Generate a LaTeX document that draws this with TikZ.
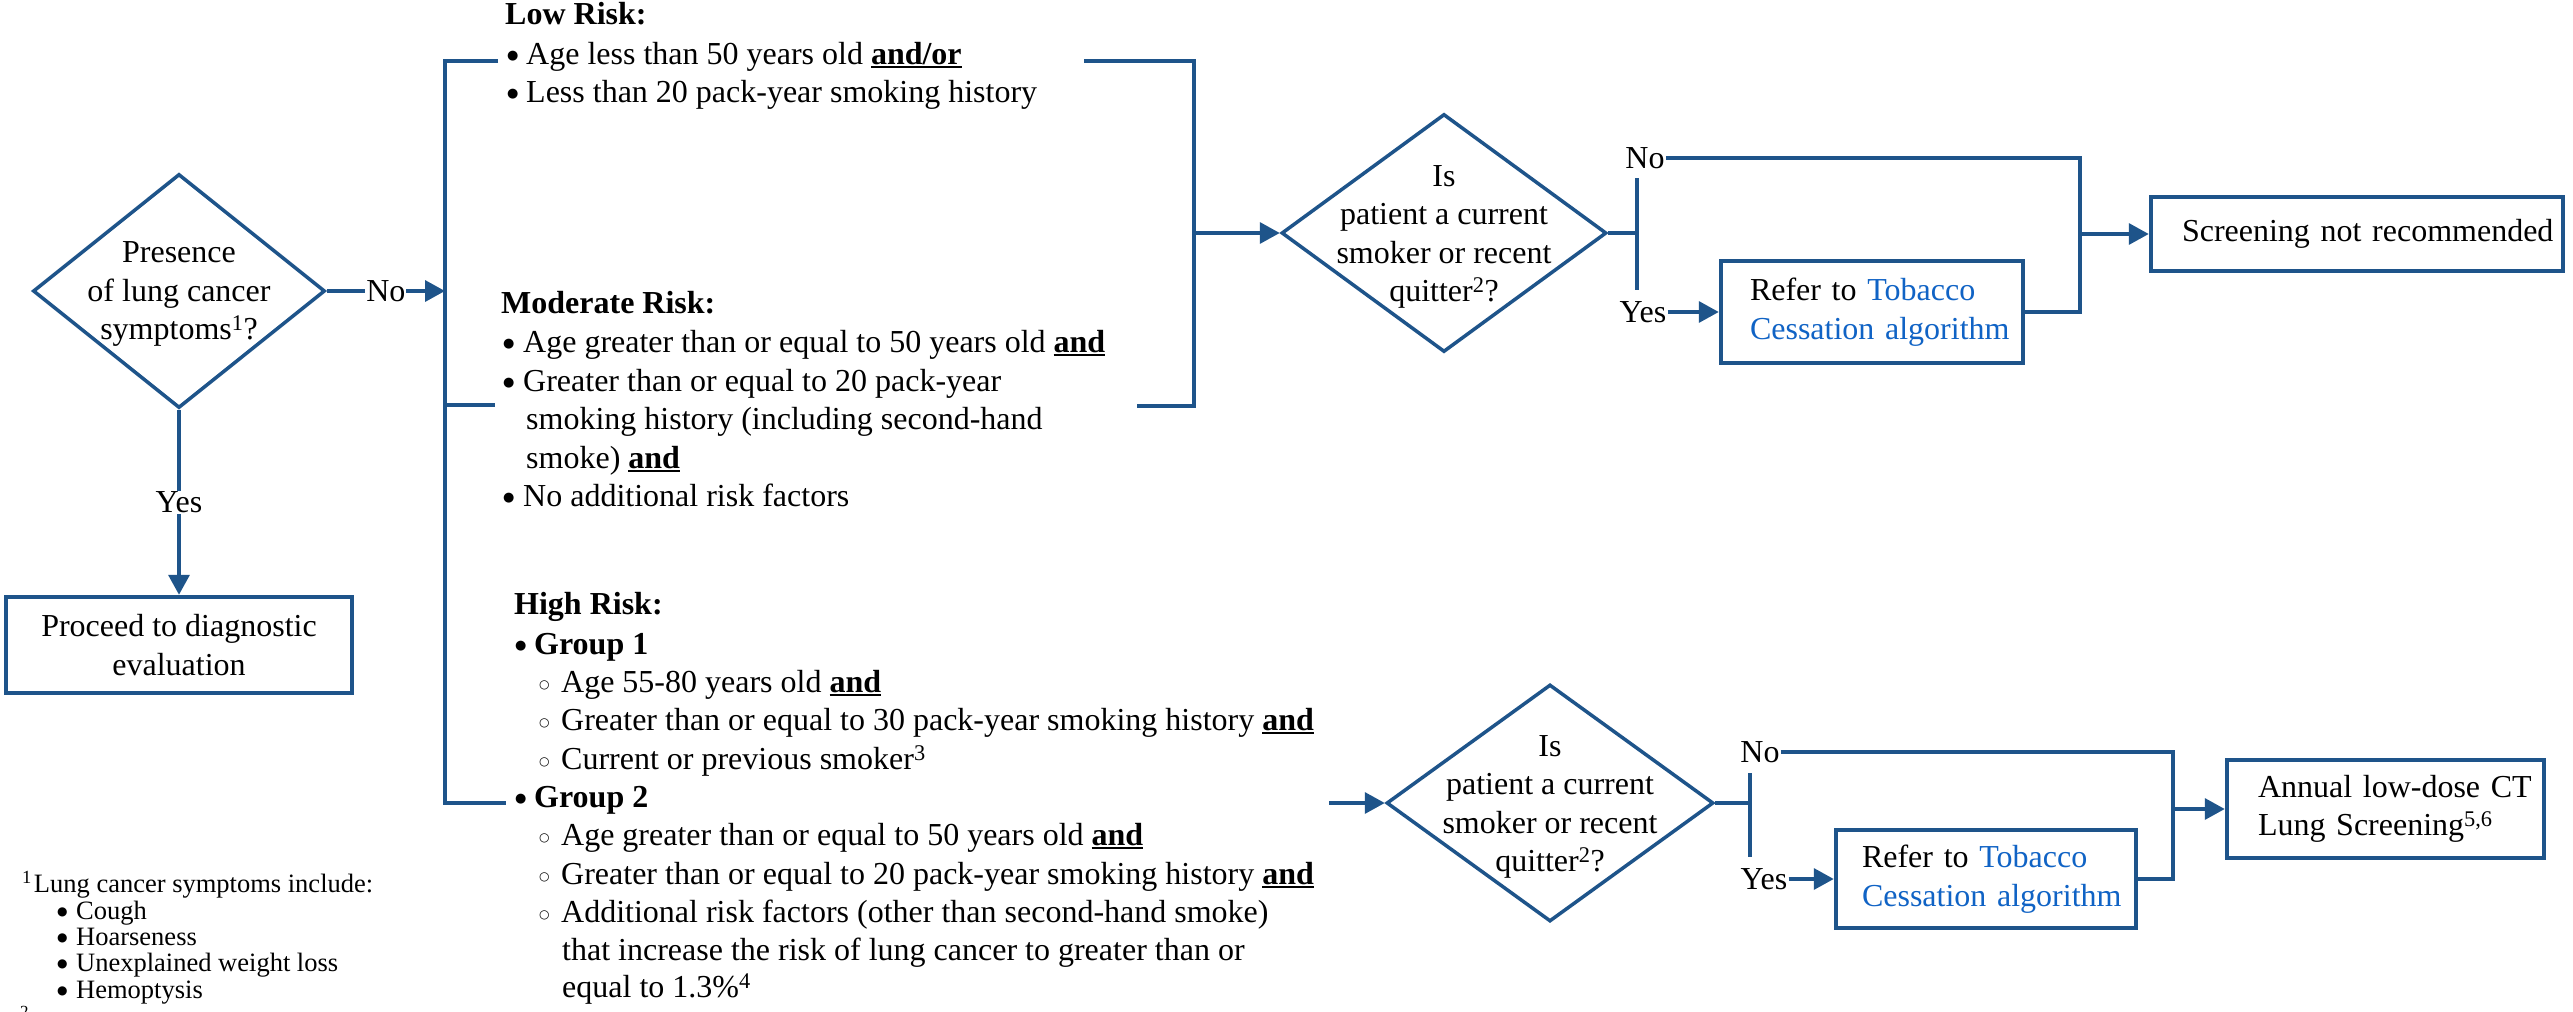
\documentclass[tikz,border=0pt]{standalone}
\usepackage{fontspec}
\setmainfont{Liberation Serif}
\newfontfamily\symf{DejaVu Sans}
\usetikzlibrary{shapes.geometric,arrows.meta,calc}
\definecolor{fc}{RGB}{30,84,138}
\definecolor{lnk}{RGB}{16,99,197}
\newcommand{\ulb}[1]{\setbox0\hbox{\bfseries #1}\rlap{\rule[-3.5pt]{\wd0}{1.8pt}}\box0}
\newcommand{\bl}[1]{\makebox[#1][l]{\raisebox{5pt}{\symf\fontsize{13}{13}\selectfont ●}}}
\newcommand{\fbl}[1]{\makebox[#1][l]{\raisebox{4pt}{\symf\fontsize{12}{12}\selectfont ●}}}
\newcommand{\wb}[1]{\makebox[#1][l]{\raisebox{4pt}{\symf\fontsize{12}{12}\selectfont ○}}}
\tikzset{
  txt/.style={anchor=mid west, inner sep=0pt, font=\fontsize{32}{38.5}\selectfont},
  fnt/.style={anchor=mid west, inner sep=0pt, font=\fontsize{26.5}{26.5}\selectfont},
  dia/.style={diamond, draw=fc, line width=3.5pt, inner sep=0pt},
  dtx/.style={align=center, inner sep=0pt, font=\fontsize{32}{38.5}\selectfont},
  box/.style={rectangle, draw=fc, line width=4.5pt, inner ysep=0pt, font=\fontsize{32}{38.5}\selectfont},
  ln/.style={draw=fc, line width=3.5pt},
  arr/.style={ln, -{Triangle[length=20pt,width=21pt]}},
  lab/.style={fill=white, inner sep=1pt, font=\fontsize{32}{38.5}\selectfont}
}
\begin{document}
\begin{tikzpicture}[x=1pt,y=-1pt]
\useasboundingbox (0,0) rectangle (2573,1012);
\fill[white] (0,0) rectangle (2573,1012);

% first decision
\node[dia, minimum width=292pt, minimum height=234pt] (d1) at (179,291) {};
\node[dtx] (d1t) at (179,294) {Presence\\of lung cancer\\symptoms\textsuperscript{1}?};
\node[box, minimum width=346pt, minimum height=96pt, align=center] (proc) at (179,645) {Proceed to diagnostic\\evaluation};
\draw[arr] (d1.south) -- node[lab] (yesl) {Yes} (proc.north);
\coordinate (b1) at (445,291);
\draw[arr] (d1.east) -- node[lab] (nol) {No} (b1);

% bus
\coordinate (busT) at (445,61);
\coordinate (busM) at (445,405);
\coordinate (busB) at (445,803);
\coordinate (lowL) at (498,61);
\coordinate (modL) at (495,405);
\coordinate (hiL) at (506,803);
\draw[ln] (lowL) -- (busT) -- (busB) -- (hiL);
\draw[ln] (busM) -- (modL);

% low risk
\node[txt] (lowh) at (505,22) {\textbf{Low Risk:}};
\node[txt] (low1) at (507,62) {\bl{19pt}Age less than 50 years old \ulb{and/or}};
\node[txt] (low2) at (507,100) {\bl{19pt}Less than 20 pack-year smoking history};

% moderate risk
\node[txt] (modh) at (501,311) {\textbf{Moderate Risk:}};
\node[txt] (mod1) at (503,350) {\bl{20pt}Age greater than or equal to 50 years old \ulb{and}};
\node[txt] (mod2) at (503,389) {\bl{20pt}Greater than or equal to 20 pack-year};
\node[txt] (mod3) at (526,427) {smoking history (including second-hand};
\node[txt] (mod4) at (526,466) {smoke) \ulb{and}};
\node[txt] (mod5) at (503,504) {\bl{20pt}No additional risk factors};

% high risk
\node[txt] (highh) at (514,612) {\textbf{High Risk:}};
\node[txt] (g1) at (515,652) {\bl{19pt}\textbf{Group 1}};
\node[txt] (g1a) at (539,690) {\wb{22pt}Age 55-80 years old \ulb{and}};
\node[txt] (g1b) at (539,728) {\wb{22pt}Greater than or equal to 30 pack-year smoking history \ulb{and}};
\node[txt] (g1c) at (539,767) {\wb{22pt}Current or previous smoker\textsuperscript{3}};
\node[txt] (g2) at (515,805) {\bl{19pt}\textbf{Group 2}};
\node[txt] (g2a) at (539,843) {\wb{22pt}Age greater than or equal to 50 years old \ulb{and}};
\node[txt] (g2b) at (539,882) {\wb{22pt}Greater than or equal to 20 pack-year smoking history \ulb{and}};
\node[txt] (g2c) at (539,920) {\wb{22pt}Additional risk factors (other than second-hand smoke)};
\node[txt] (g2d) at (562,958) {that increase the risk of lung cancer to greater than or};
\node[txt] (g2e) at (562,995) {equal to 1.3\%\textsuperscript{4}};

% footnote
\node[fnt] (fn0) at (22,890) {\textsuperscript{1}\hspace{2pt}Lung cancer symptoms include:};
\node[fnt] (fn1) at (57,917) {\fbl{19pt}Cough};
\node[fnt] (fn2) at (57,943) {\fbl{19pt}Hoarseness};
\node[fnt] (fn3) at (57,969) {\fbl{19pt}Unexplained weight loss};
\node[fnt] (fn4) at (57,996) {\fbl{19pt}Hemoptysis};
\node[anchor=north west, inner sep=0pt, font=\fontsize{17}{17}\selectfont] (fn5) at (20,1006) {2};

% right bracket of low/moderate
\coordinate (lowR) at (1084,61);
\coordinate (brT) at (1194,61);
\coordinate (brB) at (1194,406);
\coordinate (modR) at (1137,406);
\coordinate (brM) at (1194,233);
\draw[ln] (lowR) -- (brT) -- (brB) -- (modR);

% second decision
\node[dia, minimum width=325pt, minimum height=238pt] (d2) at (1444,233) {};
\node[dtx] (d2t) at (1444,237) {Is\\patient a current\\smoker or recent\\quitter\textsuperscript{2}?};
\draw[arr] (brM) -- (d2.west);
\node[box, minimum height=102pt, text width=244pt, inner xsep=29pt, align=left] (tob1) at (1872,312) {Refer to \textcolor{lnk}{Tobacco}\\\mbox{\textcolor{lnk}{Cessation algorithm}}};
\node[box, minimum height=74pt, text width=350pt, inner xsep=31pt, align=left] (scr) at (2357,234) {\mbox{Screening not recommended}};
\coordinate (j1) at (1637,233);
\coordinate (v1t) at (1637,178);
\coordinate (v1b) at (1637,290);
\node[lab] (no1) at (1645,158) {No};
\node[lab] (yes1) at (1643,312) {Yes};
\coordinate (r1t) at (2080,158);
\coordinate (r1b) at (2080,312);
\coordinate (r1m) at (2080,234);
\draw[ln] (d2.east) -- (j1);
\draw[ln] (v1t) -- (v1b);
\draw[ln] (no1.east) -- (r1t) -- (r1b) -- (tob1.east);
\draw[arr] (yes1.east) -- (tob1.west);
\draw[arr] (r1m) -- (scr.west);

% third decision
\coordinate (hiR) at (1329,803);
\node[dia, minimum width=327pt, minimum height=237pt] (d3) at (1550,803) {};
\node[dtx] (d3t) at (1550,807) {Is\\patient a current\\smoker or recent\\quitter\textsuperscript{2}?};
\draw[arr] (hiR) -- (d3.west);
\node[box, minimum height=98pt, text width=248pt, inner xsep=26pt, align=left] (tob2) at (1986,879) {Refer to \textcolor{lnk}{Tobacco}\\\mbox{\textcolor{lnk}{Cessation algorithm}}};
\node[box, minimum height=98pt, text width=255pt, inner xsep=31pt, align=left] (ann) at (2385.5,809) {\mbox{Annual low-dose CT}\\Lung Screening\textsuperscript{5,6}};
\coordinate (j2) at (1750,803);
\coordinate (v2t) at (1750,773);
\coordinate (v2b) at (1750,857);
\node[lab] (no2) at (1760,752) {No};
\node[lab] (yes2) at (1764,879) {Yes};
\coordinate (r2t) at (2173,752);
\coordinate (r2b) at (2173,879);
\coordinate (r2m) at (2173,809);
\draw[ln] (d3.east) -- (j2);
\draw[ln] (v2t) -- (v2b);
\draw[ln] (no2.east) -- (r2t) -- (r2b) -- (tob2.east);
\draw[arr] (yes2.east) -- (tob2.west);
\draw[arr] (r2m) -- (ann.west);
\end{tikzpicture}
\end{document}
